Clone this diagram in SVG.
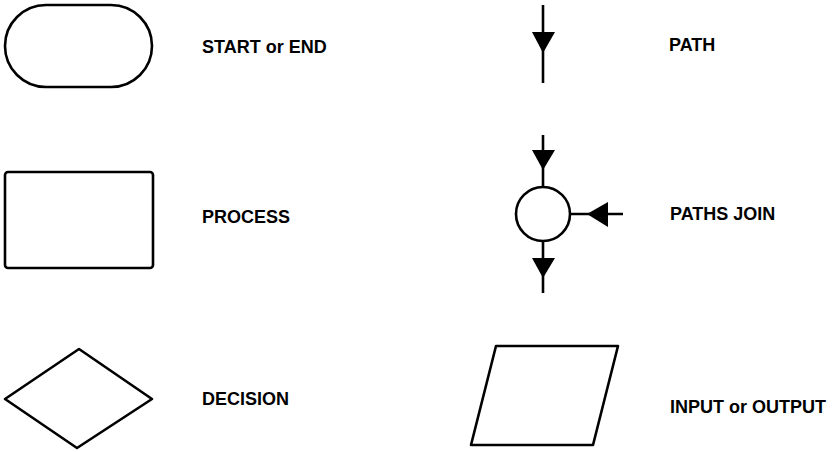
<svg xmlns="http://www.w3.org/2000/svg" width="837" height="452" viewBox="0 0 837 452">
  <style>
    .shape { fill: #ffffff; stroke: #000000; stroke-width: 2.6; stroke-linejoin: round; }
    .line { fill: none; stroke: #000000; stroke-width: 2.6; }
    .head { fill: #000000; stroke: none; }
    .label { font-family: "Liberation Sans", Arial, sans-serif; font-weight: bold; font-size: 18px; fill: #000000; }
  </style>
  <rect width="837" height="452" fill="#ffffff"/>

  <!-- terminal symbol -->
  <g id="start-end">
    <rect class="shape" x="5" y="5" width="147" height="82" rx="41" ry="41"/>
    <text class="label" x="202" y="53">START or END</text>
  </g>

  <!-- process symbol -->
  <g id="process">
    <rect class="shape" x="5" y="172" width="148" height="96" rx="3" ry="3"/>
    <text class="label" x="202" y="223">PROCESS</text>
  </g>

  <!-- decision symbol -->
  <g id="decision">
    <polygon class="shape" points="79,349 152,399 77,448 5,399"/>
    <text class="label" x="202" y="405">DECISION</text>
  </g>

  <!-- flow line symbol -->
  <g id="path">
    <text class="label" x="669" y="51">PATH</text>
  </g>

  <!-- connector symbol -->
  <g id="paths-join">
    <circle class="shape" cx="543" cy="214" r="27"/>
    <text class="label" x="670" y="220">PATHS JOIN</text>
  </g>

  <!-- input/output symbol -->
  <g id="input-output">
    <polygon class="shape" points="496,346 618,346 593,445 471,445"/>
    <text class="label" x="670" y="413">INPUT or OUTPUT</text>
  </g>

  <g id="connectors">
    <!-- single path -->
    <line class="line" x1="543" y1="5" x2="543" y2="83"/>
    <polygon class="head" points="532,32 555,32 543,53"/>
    <!-- into junction from above -->
    <line class="line" x1="543" y1="135" x2="543" y2="187"/>
    <polygon class="head" points="532,150 555,150 543,170"/>
    <!-- out of junction below -->
    <line class="line" x1="543" y1="241" x2="543" y2="293"/>
    <polygon class="head" points="532,258 555,258 543,278"/>
    <!-- into junction from the right -->
    <line class="line" x1="570" y1="214" x2="623" y2="214"/>
    <polygon class="head" points="608,202 608,227 587,214"/>
  </g>
</svg>
